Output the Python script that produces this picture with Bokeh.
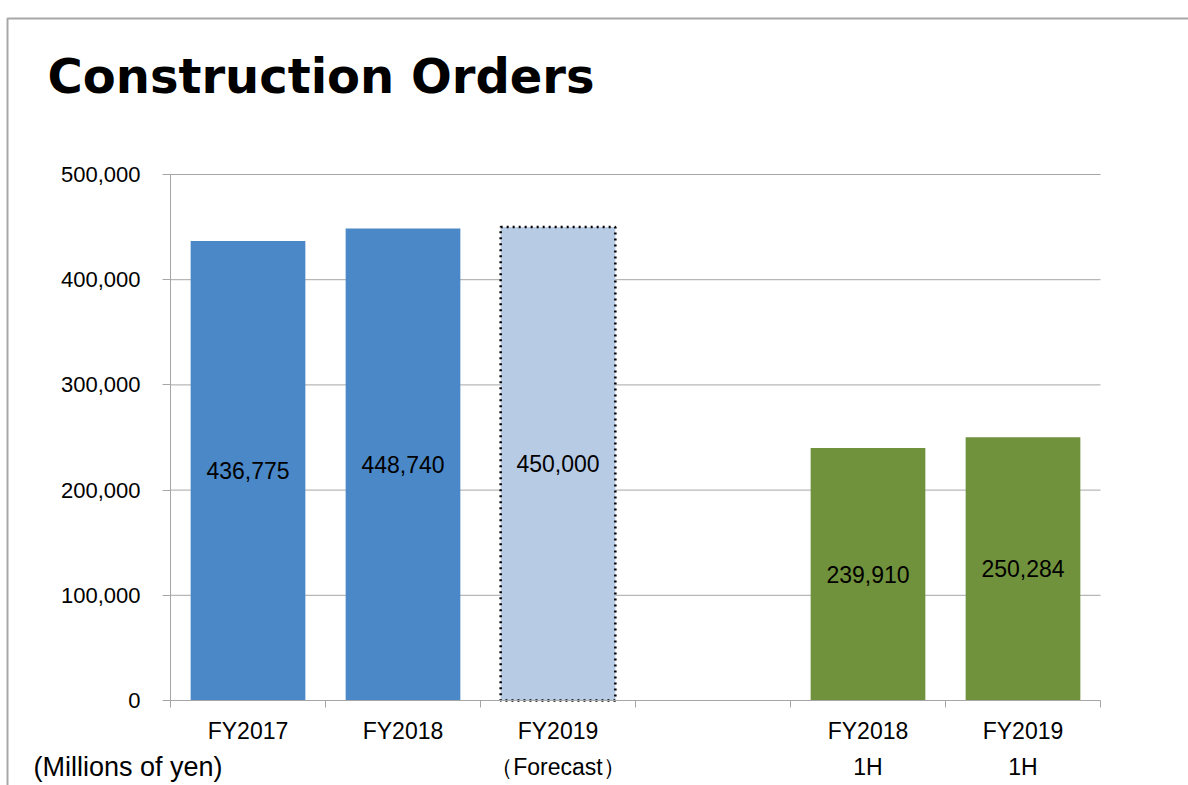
from bokeh.plotting import figure
from bokeh.models import (Range1d, FixedTicker, NumeralTickFormatter, ColumnDataSource,
                          Label, BoxAnnotation, LinearAxis)
from bokeh.core.properties import value
from bokeh.embed import file_html
from bokeh.resources import INLINE

# ---- data ----
title_text = "Construction Orders"
unit_text = "(Millions of yen)"
label_line1 = ["FY2017", "FY2018", "FY2019", "", "FY2018", "FY2019"]
label_line2 = ["", "", "（Forecast）", "", "1H", "1H"]
orders = [436775, 448740, 450000, None, 239910, 250284]
kind = ["actual", "actual", "forecast", "gap", "half", "half"]
y_ticks = [0, 100000, 200000, 300000, 400000, 500000]

# ---- styles / geometry ----
BLUE = "#4A88C8"
LIGHT = "#B7CBE5"
GREEN = "#71923C"
GRID = "#A6A6A6"
BORDER = "#A8A8A8"
FONT = "Liberation Sans"
W, H = 1188, 785
X0, SLOT = 170, 155          # page x of the y axis, px per category slot
Y0, YPX = 700, 526 / 500000  # page y of zero, px per unit

n = len(label_line1)
centers = [i + 0.5 for i in range(n)]
edges = [float(i) for i in range(n + 1)]


def src(k):
    xs, ys = [], []
    for c, v, kk in zip(centers, orders, kind):
        if kk == k and v is not None:
            xs.append(c)
            ys.append(v)
    return ColumnDataSource(dict(x=xs, top=ys, mid=[v / 2 for v in ys],
                                 txt=[f"{v:,}" for v in ys]))


p = figure(width=W, height=H,
           x_range=Range1d(-X0 / SLOT, (W - X0) / SLOT),
           y_range=Range1d(-(H - Y0) / YPX, Y0 / YPX),
           x_axis_type=None, y_axis_type=None,
           output_backend="svg", toolbar_location=None, min_border=0)
p.outline_line_color = None
p.background_fill_color = "white"
p.border_fill_color = "white"

# horizontal gridlines across the category span
p.segment(x0=[0] * len(y_ticks), x1=[n] * len(y_ticks), y0=y_ticks, y1=y_ticks,
          line_color=GRID, line_width=1)

# bars
BW = 0.74
p.vbar(x="x", top="top", width=BW, source=src("actual"), fill_color=BLUE, line_color=None)
p.vbar(x="x", top="top", width=BW, source=src("forecast"), fill_color=LIGHT,
       line_color="black", line_width=2.5, line_dash="2 4")
p.vbar(x="x", top="top", width=BW, source=src("half"), fill_color=GREEN, line_color=None)

# value labels
for k in ["actual", "forecast", "half"]:
    p.text(x="x", y="mid", text="txt", source=src(k), text_align="center",
           text_baseline="middle", text_font=value(FONT), text_font_size="23px",
           text_color="black")

# y axis
yax = LinearAxis(fixed_location=0, bounds=(0, 500000),
                 ticker=FixedTicker(ticks=y_ticks),
                 formatter=NumeralTickFormatter(format="0,0"))
yax.axis_line_color = GRID
yax.major_tick_line_color = GRID
yax.major_tick_out = 8
yax.major_tick_in = 0
yax.minor_tick_line_color = None
yax.major_label_standoff = 22
yax.major_label_text_font = FONT
yax.major_label_text_font_size = "22px"
yax.major_label_text_color = "black"
p.add_layout(yax, "left")

# x axis
xax = LinearAxis(fixed_location=0, bounds=(0, n),
                 ticker=FixedTicker(ticks=centers, minor_ticks=edges))
xax.major_label_overrides = {c: t for c, t in zip(centers, label_line1)}
xax.axis_line_color = GRID
xax.major_tick_line_color = None
xax.minor_tick_line_color = GRID
xax.minor_tick_out = 7
xax.minor_tick_in = 0
xax.major_label_standoff = 10
xax.major_label_text_font = FONT
xax.major_label_text_font_size = "23px"
xax.major_label_text_color = "black"
p.add_layout(xax, "below")

# second line of category labels
p.text(x=centers, y=[0] * n, text=label_line2, y_offset=66, text_align="center",
       text_baseline="middle", text_font=value(FONT), text_font_size="23px",
       text_color="black")

# title and unit
p.add_layout(Label(x=47, y=H - 75, x_units="screen", y_units="screen", text=title_text,
                   text_font="DejaVu Sans", text_font_style="bold", text_font_size="48px",
                   text_color="black", text_baseline="alphabetic"))
p.add_layout(Label(x=33, y=H - 766, x_units="screen", y_units="screen", text=unit_text,
                   text_font=FONT, text_font_size="27px", text_color="black",
                   text_baseline="middle"))

# slide border
p.add_layout(BoxAnnotation(left=7, right=W + 50, top=H - 18, bottom=-50,
                           left_units="screen", right_units="screen",
                           top_units="screen", bottom_units="screen",
                           fill_color=None, line_color=BORDER, line_alpha=1.0,
                           line_width=2))

open("out.html", "w").write(file_html(p, INLINE))
